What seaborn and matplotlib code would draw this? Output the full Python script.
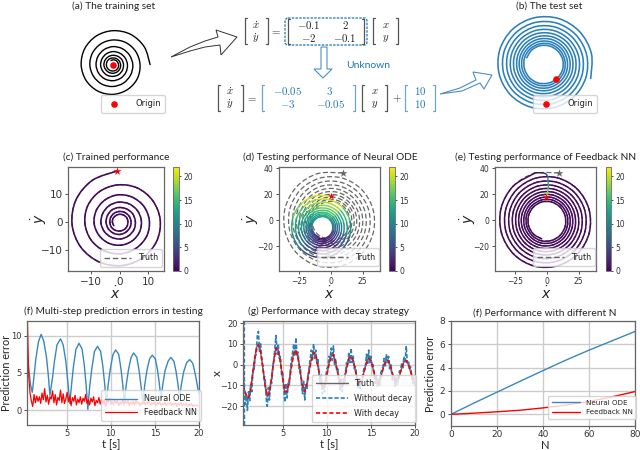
import numpy as np
import matplotlib
matplotlib.use("Agg")
import matplotlib.pyplot as plt
import seaborn as sns
from matplotlib.lines import Line2D
from matplotlib.path import Path
from matplotlib.patches import Polygon, FancyBboxPatch, PathPatch
from matplotlib.cm import ScalarMappable
from matplotlib.colors import Normalize

# ---------- data ----------
TRAIN_RADII = [
    18.0,17.5,17.1,16.6,16.2,15.8,15.4,15.0,14.6,14.2,13.8,13.5,
    13.1,12.8,12.5,12.1,11.8,11.5,11.2,10.9,10.7,10.4,10.1,9.8,
    9.6,9.3,9.1,8.9,8.6,8.4,8.2,8.0,7.8,7.6,7.4,7.2,
    7.0,6.8,6.6,6.5,6.3,6.1,6.0,5.8,5.7,5.5,5.4,5.2,
    5.1,5.0,4.8,4.7,4.6,4.5,4.4,4.2,4.1,4.0,3.9,3.8,
    3.7,3.6,3.5,3.4,3.4,3.3,3.2,3.1,3.0,2.9,2.9,2.8,
    2.7,2.6,2.6,2.5,2.4]
TEST_RADII = [
    38.0,37.6,37.3,37.0,36.6,36.3,36.0,35.6,35.3,35.0,34.7,34.4,
    34.1,33.8,33.5,33.2,32.9,32.6,32.4,32.1,31.8,31.5,31.3,31.0,
    30.7,30.5,30.2,29.9,29.7,29.4,29.2,28.9,28.7,28.4,28.2,27.9,
    27.7,27.5,27.2,27.0,26.8,26.5,26.3,26.1,25.9,25.7,25.4,25.2,
    25.0,24.8,24.6,24.4,24.2,24.0,23.8,23.6,23.4,23.2,22.9,22.7,
    22.6,22.4,22.2,22.0,21.8,21.6,21.4,21.2,21.1,20.9,20.7,20.5,
    20.4,20.2,20.0,19.9,19.7,19.5,19.4,19.2,19.0,18.9,18.7,18.5,
    18.4,18.2,18.1,17.9,17.8,17.6,17.5,17.3,17.2,17.0,16.9,16.7,
    16.6,16.4,16.3,16.2,16.0,15.9,15.8,15.6,15.5,15.4,15.2,15.1,
    15.0,14.9,14.7,14.6,14.5,14.4,14.3]
PRED_RADII = [
    25.0,24.7,24.4,24.2,23.9,23.7,23.4,23.2,22.9,22.7,22.4,22.2,
    21.9,21.7,21.5,21.2,21.0,20.8,20.6,20.4,20.1,19.9,19.7,19.5,
    19.3,19.1,18.9,18.7,18.5,18.3,18.1,17.9,17.7,17.5,17.3,17.2,
    17.0,16.8,16.6,16.5,16.3,16.1,16.0,15.8,15.6,15.5,15.3,15.2,
    15.0,14.9,14.7,14.6,14.4,14.3,14.1,14.0,13.8,13.7,13.5,13.4,
    13.3,13.1,13.0,12.8,12.7,12.6,12.5,12.3,12.2,12.1,12.0,11.8,
    11.7,11.6,11.5,11.4,11.2,11.1,11.0,10.9,10.8,10.7,10.6,10.5,
    10.4,10.3,10.2,10.1,10.0,9.9,9.8,9.7,9.6,9.5,9.4,9.3,
    9.2,9.1,9.0,8.95,8.9,8.8,8.7,8.65,8.6,8.5,8.4,8.35,
    8.3,8.2,8.15,8.1,8.0,7.95,7.9]
PRED_ERROR = [
    21,20,17,14,10,6,3,3,6,11,16,20,
    20,19,16,13,9,6,3,3,6,11,15,19,
    19,18,15,12,9,5,2,3,5,10,14,18,
    18,17,14,12,8,5,2,2,5,9,14,17,
    17,16,14,11,8,5,2,2,5,9,13,16,
    16,15,13,10,7,4,2,2,4,8,12,15,
    15,14,12,10,7,4,2,2,4,8,11,14,
    14,13,12,9,7,4,1,2,4,7,11,14,
    14,13,11,9,6,4,1,2,4,7,10,13,
    13,12,11,8,6,3,1]
LEAD_X = [-1.0,-0.4,0.3,0.9,1.0,0.8,0.5,-0.3,-1.5,-4.0,-7.5,-10.0]
LEAD_Y = [17.5,19.0,21.0,24.0,27.0,30.5,33.3,34.8,35.8,36.3,36.4,36.3]
LEAD_ERROR = [21,20,18,15,13,10,7,4,2,1,0.5,0.5]

ERR_ODE_T = [0.5,0.7,0.9,1.1,1.3,1.5,1.8,2.1,2.4,2.7,2.9,3.1,
    3.4,3.6,3.9,4.3,4.6,4.9,5.1,5.35,5.55,5.75,6.05,6.4,6.75,7.0,7.2,7.4,
    7.6,7.85,8.15,8.5,8.85,9.1,9.3,9.5,9.7,9.95,10.25,10.55,10.9,11.15,11.35,11.55,
    11.75,12.0,12.3,12.6,12.95,13.2,13.4,13.65,13.85,14.1,14.4,14.7,15.05,15.3,15.5,15.7,
    15.9,16.15,16.5,16.8,17.15,17.4,17.6,17.8,18.0,18.25,18.6,18.95,19.3,19.55,19.8,20.0]
ERR_ODE = [8.0,5.5,3.4,2.4,4.6,6.9,9.2,10.2,9.3,7.2,4.9,2.0,
    4.4,6.5,8.8,9.6,8.8,6.6,4.1,0.9,3.4,5.7,8.2,9.0,8.2,6.0,3.4,0.1,
    3.1,5.6,7.9,8.6,7.9,5.9,3.6,0.8,3.4,5.6,7.5,8.1,7.5,5.6,3.5,1.0,
    3.4,5.4,7.1,7.7,7.1,5.4,3.5,1.0,3.4,5.4,6.9,7.4,6.9,5.4,3.6,1.4,
    3.5,5.3,6.6,7.1,6.6,5.2,3.6,1.7,3.4,5.1,6.4,6.8,6.3,5.0,3.4,2.1]
ERR_FB_HEAD_T = [0.5,0.55,0.7]
ERR_FB_HEAD = [12.0,12.0,4.5]
ERR_FB_NOISE = [
    2.2,1.2,0.5,2.1,1.0,1.9,1.2,1.8,0.9,2.3,1.4,2.9,1.1,2.0,0.8,1.8,1.5,2.6,1.0,2.1,0.7,1.7,1.3,2.7,1.0,2.2,0.9,1.5,2.4,
    1.1,1.9,0.6,1.7,1.2,2.0,0.7,1.5,1.0,1.8,0.8,1.6,1.2,2.1,0.9,1.4,0.7,1.6,1.1,1.8,0.6,1.3,1.0,1.7,0.8,1.5,0.9,1.4,0.5,1.3,1.0,1.6,0.8,
    1.2,0.7,1.4,0.9,1.3,0.6,1.1,0.8,1.4,0.7,1.2,0.9,1.3,0.6,1.1,0.8,1.2,0.7,1.3,0.9,1.1,0.6,1.0,0.8,1.2,0.7,1.1,0.9,1.2,0.6,1.0,0.8,1.1,
    0.6,1.0,0.8,1.1,0.6,0.9,0.7,1.1,0.6,0.9,0.8,1.0,0.6,0.9,0.7,1.0,0.5,0.9,0.7,1.0,0.6,0.8,0.7,0.9,0.5,0.8,0.6,0.9,0.5,0.7,0.6,0.7,0.5]

TRUTH_X = [-9,-14,-17,-14.5,-7,1,8,10, 6,-1.5,-10,-15.5,-13,-6,3,8.5,
    7,1,-7,-13.5,-13,-7,0,6, 7,3,-4,-11,-13,-9,-3,3,
    6,4.5,-0.5,-7,-11.5,-10,-5,0.5, 4.5,4.5,0.5,-4.5,-9,-10,-6.5,-1.5,
    3,4,1.5,-3,-7.5,-9.5,-7,-3, 1.5,3.5,2,-2,-6.5,-9,-8,-4,
    0,2.5,2,-1.5,-5.5,-8.5,-8.5,-5.5, -1.5,1.5,2,0,-3.5,-7,-10]
NODECAY_X = [
    -12,-9,-19,-15,-22,-13,-18,-9,-13,-3,-3,4,5,14,16,6,
    10,2,-1,-6,-6,-16,-20,-11,-17,-9,-9,-1,2,9,14,5,
    10,3,4,-5,-4,-12,-18,-9,-16,-9,-10,-2,3,6,10,4,
    13,4,6,-2,-1,-9,-14,-8,-17,-9,-12,-5,-1,3,7,2,
    10,3,7,0,3,-6,-9,-5,-14,-9,-13,-6,-2,-1,4,3,
    8,2,9,0,3,-3,-2,-8,-12,-7,-13,-7,-9,-3,1,0,
    6,1,8,1,4,-2,-1,-6,-11,-6,-12,-7,-9,-4,-1,-1,
    5,0,7,1,4,-1,0,-6,-9,-5,-11,-7,-10,-4,-2,-1,
    3,-1,5,1,4,-2,0,-5,-8,-5,-11,-6,-10,-5,-3,-3,
    1,-2,4,1,9,1,2,-2,-1,-5,-9,-6,-10]
DECAY_X = [-10,-13,-16,-15,-8,0,7,9.5,6,-1,-10,-15,-13.5,-6,2,8,7,1,-6,-13,-13,-8,-1,5,
    7,3,-4,-10,-13,-9,-3,2,6,5,-1,-6,-11,-10,-5,0,4,5,1,-4,-8,-10,-7,-2,
    3,4,2,-3,-7,-9,-7,-3,1,3,2,-2,-6,-9,-8,-4,0,2,2,-1,-5,-8,-8,-5,-1,1,2,0,-3,-7,-9]
NODECAY_HEAD_T = [0.5,0.52]
NODECAY_HEAD_X = [21,-29]
DECAY_HEAD_T = [0.52,0.55]
DECAY_HEAD_X = [20,-9]

N_VALUES = [0,10,20,30,40,50,60,70,80]
N_ODE = [0,0.97,1.9,2.83,3.75,4.65,5.5,6.3,7.1]
N_FB = [0,0.1,0.22,0.35,0.55,0.8,1.1,1.5,1.95]

BLUE, RED, GRAY = "#1f77b4", "#ff0000", "#666666"
W, H = 640, 450
sns.set_theme(style="white")
plt.rcParams.update({
    "font.family": "DejaVu Sans", "axes.edgecolor": "#666666", "axes.linewidth": 0.9,
    "xtick.color": "#333333", "ytick.color": "#333333", "text.color": "#222222",
    "axes.labelcolor": "#222222", "xtick.bottom": True, "ytick.left": True,
    "xtick.major.size": 2, "ytick.major.size": 2, "xtick.major.width": 0.6, "ytick.major.width": 0.6,
    "xtick.major.pad": 2, "ytick.major.pad": 2})

fig = plt.figure(figsize=(6.4, 4.5), dpi=100)
vnorm = Normalize(0, 22)
viridis = plt.get_cmap("viridis")


def rect(x0, y0, x1, y1):
    return [x0 / W, 1 - y1 / H, (x1 - x0) / W, (y1 - y0) / H]


def spiral(radii, start_deg, cx, cy):
    r = np.array(radii, float)
    a = np.deg2rad(start_deg + 30 * np.arange(len(r)))
    return cx + r * np.cos(a), cy + r * np.sin(a)


def bezier_controls(x, y):
    """Control points of a smooth curve that passes through every read point."""
    p = np.column_stack([x, y])
    q = np.vstack([p[0], p, p[-1]])
    c1 = p[:-1] + (q[2:-1] - q[:-3]) / 6
    c2 = p[1:] - (q[3:] - q[1:-2]) / 6
    return p, c1, c2


def curve(ax, x, y, color, lw, ls="-", zorder=2):
    p, c1, c2 = bezier_controls(x, y)
    verts = [p[0]]
    codes = [Path.MOVETO]
    for i in range(len(c1)):
        verts += [c1[i], c2[i], p[i + 1]]
        codes += [Path.CURVE4] * 3
    ax.add_patch(PathPatch(Path(verts, codes), fill=False, ec=color, lw=lw, ls=ls, zorder=zorder,
                           capstyle="butt"))


def colored(ax, x, y, vals, lw=1.3):
    p, c1, c2 = bezier_controls(x, y)
    for i in range(len(c1)):
        path = Path([p[i], c1[i], c2[i], p[i + 1]], [Path.MOVETO] + [Path.CURVE4] * 3)
        ax.add_patch(PathPatch(path, fill=False, ec=viridis(vnorm(vals[i])), lw=lw, capstyle="round", zorder=3))


def line(ax, x, y, **kw):
    sns.lineplot(x=list(x), y=list(y), ax=ax, sort=False, estimator=None, **kw)


def put_legend(ax, handles, cx, cy, size=7, **kw):
    inv = ax.transAxes.inverted()
    px = inv.transform((cx, H - cy))
    opts = dict(framealpha=0.8, borderpad=0.5, labelspacing=0.6)
    opts.update(kw)
    return ax.legend(handles=handles, loc="center", bbox_to_anchor=tuple(px), fontsize=size, **opts)


def title(x, y, s, size=7.3):
    fig.text(x / W, 1 - y / H, s, ha="center", va="center", fontsize=size,
             family="Lato", color="#222222")


def cbar(x0, x1, size=5.5):
    cax = fig.add_axes(rect(x0, 167, x1, 271))
    cb = fig.colorbar(ScalarMappable(norm=vnorm, cmap="viridis"), cax=cax)
    cb.set_ticks([0, 5, 10, 15, 20])
    cb.ax.tick_params(labelsize=size, length=1.5, pad=1.5)
    cb.outline.set_linewidth(0.6)
    cb.outline.set_edgecolor("#666666")


def phase_axes(box, xlim, ylim, xticks, yticks, tsize, xlab_x, ylab_x):
    ax = fig.add_axes(rect(*box))
    ax.set_xlim(*xlim)
    ax.set_ylim(*ylim)
    ax.set_xticks(xticks)
    ax.set_yticks(yticks)
    ax.tick_params(labelsize=tsize)
    ax.set_xlabel(r"$\dot{x}$", fontsize=10)
    ax.set_ylabel(r"$\dot{y}$", fontsize=10)
    bw, bh = box[2] - box[0], box[3] - box[1]
    ax.xaxis.set_label_coords((xlab_x - box[0]) / bw, -(285 - box[3]) / bh)
    ax.yaxis.set_label_coords((ylab_x + 11 - box[0]) / bw, 0.5)
    return ax


def truth_handle():
    return Line2D([], [], color=GRAY, lw=1.0, ls=(0, (4, 2)), label="Truth")


def star(ax, x, y, color, s):
    sns.scatterplot(x=[x], y=[y], ax=ax, marker="*", s=s, color=color, edgecolor=color, linewidth=0, zorder=6)


# ---------- (a) training spiral, (b) test spiral ----------
ax_a = fig.add_axes(rect(70, 22, 156, 108))
ax_a.set_xlim(-20.8, 20.8)
ax_a.set_ylim(-20.8, 20.8)
ax_a.axis("off")
x, y = spiral(TRAIN_RADII, 0, 0, 0)
curve(ax_a, x, y, "black", 1.0)
sc_a = ax_a.scatter([0], [0], s=14, color=RED, zorder=5, label="Origin")
put_legend(ax_a, [sc_a], 133, 104, size=6, scatterpoints=1, handletextpad=1.6, borderaxespad=0)

ax_b = fig.add_axes(rect(492, 12, 596, 116))
ax_b.set_xlim(-40.3, 40.3)
ax_b.set_ylim(-40.3, 40.3)
ax_b.axis("off")
x, y = spiral(TEST_RADII, -18, 0, 0)
curve(ax_b, x, y, "#2b80bb", 1.15)
sc_b = ax_b.scatter([9.5], [-11.5], s=14, color=RED, zorder=5, label="Origin")
put_legend(ax_b, [sc_b], 565, 104, size=6, scatterpoints=1, handletextpad=1.6, borderaxespad=0)
ax_b.get_legend().set_zorder(4)

# ---------- (c) ----------
ax = phase_axes((68, 167, 164, 271), (-18, 15.5), (-17.3, 19.4), [-10, 0, 10], [-10, 0, 10], 7.5, 115, 38)
x, y = spiral(TRAIN_RADII, 93, 0, 0)
curve(ax, x, y, GRAY, 0.9, ls=(0, (4, 2)))
colored(ax, x, y, [0.6] * len(x), lw=1.15)
star(ax, x[0], y[0], RED, 36)
put_legend(ax, [truth_handle()], 131, 258, size=5.8, handlelength=3.4, labelspacing=0.3)
cbar(173, 179)

# ---------- (d) ----------
ax = phase_axes((279, 167, 380, 271), (-41, 38.6), (-39, 40.8), [-25, 0, 25], [-20, 0, 20, 40], 5.5, 329, 250)
tx, ty = spiral(TEST_RADII, 75, -0.5, -0.5)
curve(ax, tx, ty, GRAY, 0.9, ls=(0, (4, 2)))
x, y = spiral(PRED_RADII, 73, -7, -5.5)
colored(ax, x, y, PRED_ERROR, lw=1.05)
star(ax, tx[0], ty[0], GRAY, 36)
star(ax, x[0], y[0], RED, 28)
put_legend(ax, [truth_handle()], 348, 257, size=5.8, handlelength=3.4, labelspacing=0.3)
cbar(389, 395)

# ---------- (e) ----------
ax = phase_axes((495, 167, 596, 271), (-41, 38.6), (-39, 40.8), [-25, 0, 25], [-20, 0, 20, 40], 5.5, 546, 467)
curve(ax, tx, ty, GRAY, 0.9, ls=(0, (4, 2)))
colored(ax, tx[1:], ty[1:], [0.6] * (len(tx) - 1), lw=1.1)
colored(ax, LEAD_X, LEAD_Y, LEAD_ERROR, lw=1.0)
star(ax, tx[0], ty[0], GRAY, 36)
star(ax, LEAD_X[0], LEAD_Y[0], RED, 28)
put_legend(ax, [truth_handle()], 564, 257, size=5.8, handlelength=3.4, labelspacing=0.3)
cbar(606, 611)

grid_kw = dict(color="#cccccc", lw=1.0)

# ---------- (f) errors ----------
ax = fig.add_axes(rect(27, 321, 199, 425))
ax.grid(True, **grid_kw)
line(ax, ERR_ODE_T, ERR_ODE, color="#3a87bd", lw=1.0, label="Neural ODE")
noise_t = 0.85 + 0.15 * np.arange(len(ERR_FB_NOISE))
line(ax, ERR_FB_HEAD_T + list(noise_t), ERR_FB_HEAD + ERR_FB_NOISE, color=RED, lw=0.9, label="Feedback NN")
ax.set_xlim(0.5, 20)
ax.set_ylim(-2, 12)
ax.set_xticks([5, 10, 15, 20])
ax.set_yticks([0, 5, 10])
ax.tick_params(labelsize=6)
ax.tick_params(axis="x", pad=1)
ax.set_xlabel("t [s]", fontsize=8, family="Lato")
ax.set_ylabel("Prediction error", fontsize=7.8, family="Lato")
ax.xaxis.set_label_coords(0.49, -0.14)
ax.yaxis.set_label_coords(-0.09, 0.5)
put_legend(ax, ax.get_lines(), 151, 405.5, size=5.8, handlelength=4, labelspacing=0.5)

# ---------- (g) decay ----------
ax = fig.add_axes(rect(243, 321, 415, 425))
ax.grid(True, **grid_kw)
truth_t = 0.5 + 0.25 * np.arange(len(TRUTH_X))
nodecay_t = 0.5 + 0.125 * np.arange(len(NODECAY_X))
decay_t = 0.5 + 0.25 * np.arange(len(DECAY_X))
line(ax, truth_t, TRUTH_X, color=GRAY, lw=1.0, label="Truth")
line(ax, nodecay_t, NODECAY_X, color="#2b80bb", lw=1.2, linestyle=(0, (2.5, 1.2)), label="Without decay")
line(ax, decay_t, DECAY_X, color=RED, lw=1.2, linestyle=(0, (2.5, 1.5)), label="With decay")
handles = ax.get_lines()[:3]
line(ax, NODECAY_HEAD_T, NODECAY_HEAD_X, color="#2b80bb", lw=3, linestyle=(0, (1, 0.5)))
line(ax, DECAY_HEAD_T, DECAY_HEAD_X, color=RED, lw=1.3, linestyle=(0, (2.5, 1.5)))
ax.set_xlim(0.5, 20)
ax.set_ylim(-29, 21)
ax.set_xticks([5, 10, 15, 20])
ax.set_yticks([-20, -10, 0, 10, 20])
ax.tick_params(labelsize=6)
ax.tick_params(axis="x", pad=1)
ax.set_xlabel("t [s]", fontsize=8, family="Lato")
ax.set_ylabel("x", fontsize=8.5, family="Lato")
ax.xaxis.set_label_coords(0.5, -0.14)
ax.yaxis.set_label_coords(-0.12, 0.5)
put_legend(ax, handles, 364, 398.5, size=5.8, handlelength=4, labelspacing=0.75)

# ---------- (h) different N ----------
ax = fig.add_axes(rect(451, 321, 635, 426))
ax.grid(True, **grid_kw)
line(ax, N_VALUES, N_ODE, color="#3a87bd", lw=1.0, label="Neural ODE")
line(ax, N_VALUES, N_FB, color=RED, lw=1.0, label="Feedback NN")
ax.set_xlim(0, 80)
ax.set_ylim(-1, 8)
ax.set_xticks([0, 20, 40, 60, 80])
ax.set_yticks([0, 2, 4, 6, 8])
ax.tick_params(labelsize=6.5)
ax.tick_params(axis="x", pad=1)
ax.set_xlabel("N", fontsize=8, family="Lato")
ax.set_ylabel("Prediction error", fontsize=7.8, family="Lato")
ax.xaxis.set_label_coords(0.51, -0.13)
ax.yaxis.set_label_coords(-0.082, 0.5)
put_legend(ax, ax.get_lines(), 592, 407.5, size=5.1, handlelength=4, labelspacing=0.55)

# ---------- titles ----------
title(113.5, 6, "(a) The training set")
title(549, 6, "(b) The test set")
title(116, 157, "(c) Trained performance")
title(330, 157, "(d) Testing performance of Neural ODE")
title(546, 157, "(e) Testing performance of Feedback NN")
title(113, 311, "(f) Multi-step prediction errors in testing")
title(329, 311, "(g) Performance with decay strategy")
title(545, 313, "(f) Performance with different N")

# ---------- schematic overlay ----------
ov = fig.add_axes([0, 0, 1, 1], zorder=5)
ov.set_xlim(0, W)
ov.set_ylim(H, 0)
ov.axis("off")
ov.patch.set_alpha(0)


def bracket(x0, x1, y0, y1, color="#555555", tick=2.2):
    for xa, sgn in ((x0, 1), (x1, -1)):
        ov.plot([xa + sgn * tick, xa, xa, xa + sgn * tick], [y0, y0, y1, y1], color=color, lw=0.9)


def m(x, y, s, color="#222222", size=7.8):
    ov.text(x, y, s, ha="center", va="center", fontsize=size, color=color, math_fontfamily="cm")


bracket(245, 268, 18, 44)
m(256, 25, r"$\dot{x}$")
m(256, 38, r"$\dot{y}$")
m(276, 31, r"$=$")
ov.add_patch(FancyBboxPatch((285, 18), 82, 27, boxstyle="round,pad=0,rounding_size=3", fill=False,
                            ec=BLUE, lw=0.9, ls=(0, (2, 1))))
bracket(288, 364, 19, 44)
for xx, yy, s in [(309, 25, r"$\mathbf{-0.1}$"), (345, 25, r"$\mathbf{2}$"),
                  (309, 38, r"$\mathbf{-2}$"), (345, 38, r"$\mathbf{-0.1}$")]:
    m(xx, yy, s)
bracket(373, 398, 18, 44)
m(386, 25, r"$x$")
m(386, 38, r"$y$")

bracket(218, 243, 85, 111)
m(230, 91, r"$\dot{x}$")
m(230, 104, r"$\dot{y}$")
m(252, 98, r"$=$")
bracket(262, 355, 85, 111, color="#6aa7d0")
for xx, yy, s in [(288, 91, r"$-0.05$"), (330, 91, r"$3$"), (288, 104, r"$-3$"), (331, 104, r"$-0.05$")]:
    m(xx, yy, s, color=BLUE)
bracket(362, 387, 85, 111)
m(374.5, 91, r"$x$")
m(374.5, 104, r"$y$")
m(397, 98, r"$+$")
bracket(405, 435, 85, 111, color="#6aa7d0")
m(420, 91, r"$10$", color=BLUE)
m(420, 104, r"$10$", color=BLUE)
ov.text(368, 65, "Unknown", ha="center", va="center", fontsize=7.5, family="Lato", color=BLUE)

ov.add_patch(Polygon([(171, 57), (190, 47), (205, 41), (218, 37), (216, 30), (237, 37), (221, 55), (220, 45),
                      (205, 47), (190, 51)], closed=True, fc="white", ec="#333333", lw=0.7))
ov.add_patch(Polygon([(321, 47), (327, 47), (327, 69), (332, 69), (323, 78), (314, 69), (321, 69)],
                     closed=True, fc="white", ec="#4a90c4", lw=0.8))
ov.add_patch(Polygon([(440, 94), (460, 88), (476, 80), (473, 72), (492, 75), (484, 89), (480, 83),
                      (462, 91)], closed=True, fc="white", ec="#4a90c4", lw=0.8))

fig.savefig("out.png", dpi=100)
